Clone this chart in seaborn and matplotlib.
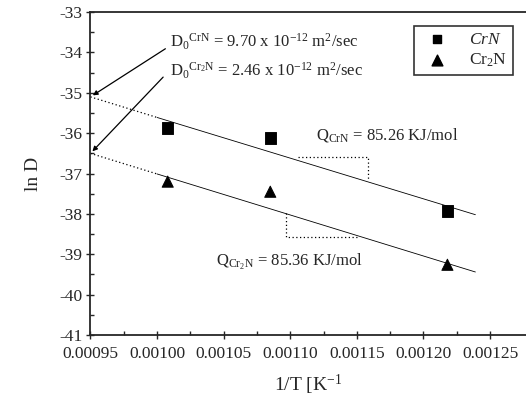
import matplotlib
matplotlib.use("Agg")
import matplotlib.pyplot as plt
import seaborn as sns
import pandas as pd

# measured points (1/T, ln D)
inv_t = [0.001008, 0.001085, 0.001218]
ln_d_crn = [-35.87, -36.12, -37.93]
ln_d_cr2n = [-37.20, -37.45, -39.26]
phases = ["CrN", "Cr2N"]

# fitted lines
fit_x = [0.00095, 0.00100, 0.001239]
fit_crn = [-35.10, -35.61, -38.02]
fit_cr2n = [-36.50, -37.01, -39.44]

# slope helper triangles
tri_crn_x = [0.001106, 0.001158, 0.001158]
tri_crn_y = [-36.59, -36.59, -37.16]
tri_cr2n_x = [0.001097, 0.001097, 0.001151]
tri_cr2n_y = [-37.98, -38.57, -38.57]

df = pd.DataFrame({
    "x": inv_t * 2,
    "y": ln_d_crn + ln_d_cr2n,
    "phase": [phases[0]] * 3 + [phases[1]] * 3,
})

sns.set_style("ticks")
plt.rcParams["font.family"] = ["Liberation Serif", "DejaVu Serif"]
plt.rcParams["mathtext.fontset"] = "custom"
plt.rcParams["mathtext.rm"] = "Liberation Serif"
plt.rcParams["mathtext.it"] = "Liberation Serif:italic"
plt.rcParams["axes.unicode_minus"] = False

fig = plt.figure(figsize=(5.26, 4.05), dpi=100)
ax = fig.add_axes([0.172, 0.173, 0.828, 0.797])

# fit lines: dotted near the axis, thin solid after
for fy in (fit_crn, fit_cr2n):
    ax.plot(fit_x[:2], fy[:2], color="black", lw=0.9, ls=(0, (1, 2)))
    ax.plot(fit_x[1:], fy[1:], color="black", lw=0.6)
ax.plot(tri_crn_x, tri_crn_y, color="black", lw=0.9, ls=(0, (1, 2)))
ax.plot(tri_cr2n_x, tri_cr2n_y, color="black", lw=0.9, ls=(0, (1, 2)))

sns.scatterplot(data=df, x="x", y="y", style="phase", markers={"CrN": "s", "Cr2N": "^"},
                color="black", s=65, edgecolor="black", ax=ax, legend=False)

h1 = ax.scatter([], [], marker="s", color="black", s=35, label=r"$\it{CrN}$")
h2 = ax.scatter([], [], marker="^", color="black", s=60, label=r"Cr$_2$N")
leg = ax.legend(handles=[h1, h2], loc="upper right", bbox_to_anchor=(0.99, 0.985),
                fontsize=12.5, frameon=True, fancybox=False, handletextpad=0.8,
                borderpad=0.35, labelspacing=0.2, shadow=False)
leg.get_frame().set_edgecolor("black")
leg.get_frame().set_linewidth(1.2)

ax.annotate("", xy=(0.00095, -35.10), xytext=(0.001008, -33.87),
            arrowprops=dict(arrowstyle="-|>", color="black", lw=0.9, mutation_scale=7))
ax.annotate("", xy=(0.00095, -36.50), xytext=(0.001006, -34.56),
            arrowprops=dict(arrowstyle="-|>", color="black", lw=0.9, mutation_scale=7))

ax.text(0.001010, -33.74, r"D$_0$$^{\mathrm{CrN}}$ = 9.70 x 10$^{-12}$ m$^2$/sec",
        fontsize=12, va="center", ha="left")
ax.text(0.001010, -34.46, r"D$_0$$^{\mathrm{Cr_2N}}$ = 2.46 x 10$^{-12}$ m$^2$/sec",
        fontsize=12, va="center", ha="left")
ax.text(0.001119, -36.05, r"Q$_{\mathrm{CrN}}$ = 85.26 KJ/mol", fontsize=12, va="center", ha="left")
ax.text(0.001044, -39.19, r"Q$_{\mathrm{Cr_2N}}$ = 85.36 KJ/mol", fontsize=12, va="center", ha="left")

ax.set_xlim(0.00095, 0.001277)
ax.set_ylim(-41, -33)
ax.set_xticks([0.00095, 0.00100, 0.00105, 0.00110, 0.00115, 0.00120, 0.00125])
ax.set_xticklabels(["0.00095", "0.00100", "0.00105", "0.00110", "0.00115", "0.00120", "0.00125"])
ax.set_yticks(range(-41, -32))
ax.set_xticks([0.000975 + 0.00005 * i for i in range(6)], minor=True)
ax.set_yticks([-40.5 + i for i in range(8)], minor=True)
ax.tick_params(which="major", direction="inout", length=6, width=1, labelsize=12.5)
ax.tick_params(axis="x", which="major", pad=5)
ax.tick_params(axis="y", which="major", pad=3)
ax.tick_params(which="minor", direction="in", length=3, width=1)

for side in ("left", "bottom", "top"):
    ax.spines[side].set_linewidth(1.3)
ax.spines["right"].set_visible(False)

ax.set_xlabel(r"1/T [K$^{-1}$", fontsize=14, labelpad=8)
ax.set_ylabel("ln D", fontsize=14, labelpad=12)

fig.savefig("out.png", dpi=100)
